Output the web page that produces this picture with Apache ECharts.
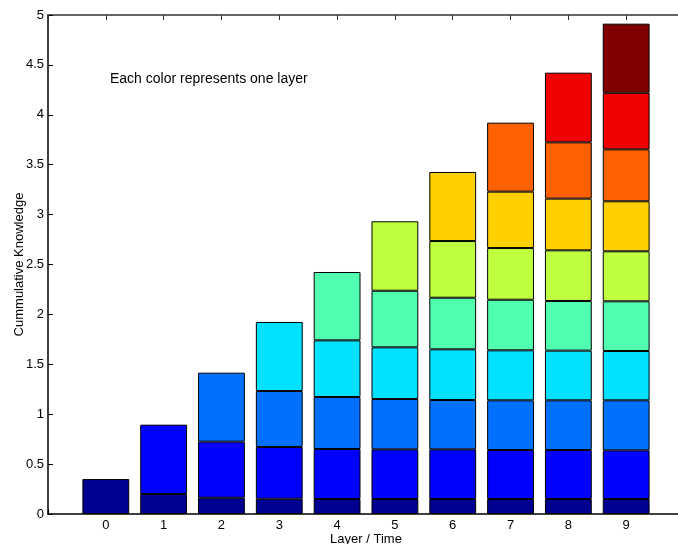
<!DOCTYPE html>
<html>
<head>
<meta charset="utf-8">
<script src="https://cdn.jsdelivr.net/npm/echarts@6/dist/echarts.min.js"></script>
<style>
html,body{margin:0;padding:0;background:#fff;}
#c{width:678px;height:544px;}
</style>
</head>
<body>
<div id="c"></div>
<script>
// x axis categories (Layer / Time); -1 and 10 are the empty axis ends
var xCategories = ['-1', '0', '1', '2', '3', '4', '5', '6', '7', '8', '9', '10'];
// Per-layer increments for times 0..9 (null = layer not present yet)
var layer1  = [0.35, 0.20, 0.163, 0.153, 0.150, 0.150, 0.150, 0.150, 0.150, 0.150];
var layer2  = [null, 0.695, 0.562, 0.518, 0.501, 0.498, 0.498, 0.491, 0.491, 0.488];
var layer3  = [null, null, 0.691, 0.561, 0.521, 0.504, 0.494, 0.498, 0.498, 0.501];
var layer4  = [null, null, null, 0.692, 0.568, 0.518, 0.508, 0.501, 0.498, 0.494];
var layer5  = [null, null, null, null, 0.685, 0.567, 0.517, 0.507, 0.497, 0.498];
var layer6  = [null, null, null, null, null, 0.696, 0.568, 0.518, 0.508, 0.501];
var layer7  = [null, null, null, null, null, null, 0.692, 0.565, 0.518, 0.501];
var layer8  = [null, null, null, null, null, null, null, 0.691, 0.564, 0.521];
var layer9  = [null, null, null, null, null, null, null, null, 0.698, 0.567];
var layer10 = [null, null, null, null, null, null, null, null, null, 0.692];
var layers = [layer1, layer2, layer3, layer4, layer5, layer6, layer7, layer8, layer9, layer10];
var colors = ['#000090', '#0000ff', '#0070ff', '#00e0ff', '#50ffb0', '#c0ff40', '#ffd000', '#ff6000', '#f00000', '#800000'];

var FONT = 'Liberation Sans, Arial, sans-serif';
var chart = echarts.init(document.getElementById('c'), null, {renderer: 'canvas'});

var series = layers.map(function (arr, k) {
  // pad with empty values for the -1 and 10 axis ends
  var d = ['-'].concat(arr.map(function (v) { return v === null ? '-' : v; })).concat(['-']);
  return {
    type: 'bar',
    name: 'Layer ' + k,
    stack: 'total',
    barWidth: '81%',
    data: d,
    itemStyle: {color: colors[k], borderColor: '#000', borderWidth: 1},
    emphasis: {disabled: true},
    animation: false
  };
});

chart.setOption({
  animation: false,
  backgroundColor: '#fff',
  grid: {left: 48, top: 15, right: -6, bottom: 30, containLabel: false, outerBoundsMode: 'none'},
  xAxis: [{
    type: 'category', data: xCategories, boundaryGap: false, position: 'bottom',
    name: 'Layer / Time', nameLocation: 'middle', nameGap: 19, nameMoveOverlap: false,
    nameTextStyle: {fontFamily: FONT, fontSize: 13, color: '#000'},
    axisLine: {show: true, onZero: false, lineStyle: {color: '#000', width: 1.5}},
    axisTick: {show: true, inside: true, length: 5, interval: 0, lineStyle: {color: '#000'}},
    axisLabel: {fontFamily: FONT, fontSize: 13, color: '#000', margin: 5, interval: 0,
      formatter: function (v) { return (v === '-1' || v === '10') ? '' : v; }},
    splitLine: {show: false}
  }, {
    type: 'category', data: xCategories, boundaryGap: false, position: 'top',
    axisLine: {show: true, onZero: false, lineStyle: {color: '#333', width: 1.5}},
    axisTick: {show: true, inside: true, length: 5, interval: 0, lineStyle: {color: '#333'}},
    axisLabel: {show: false},
    splitLine: {show: false}
  }],
  yAxis: [{
    type: 'value', min: 0, max: 5, interval: 0.5, position: 'left',
    name: 'Cummulative Knowledge', nameLocation: 'middle', nameGap: 22, nameRotate: 90, nameMoveOverlap: false,
    nameTextStyle: {fontFamily: FONT, fontSize: 13, color: '#000'},
    axisLine: {show: true, onZero: false, lineStyle: {color: '#000', width: 1.5}},
    axisTick: {show: true, inside: true, length: 5, lineStyle: {color: '#000'}},
    axisLabel: {fontFamily: FONT, fontSize: 13, color: '#000', margin: 4},
    splitLine: {show: false}
  }, {
    type: 'value', min: 0, max: 5, interval: 0.5, position: 'right',
    axisLine: {show: true, onZero: false, lineStyle: {color: '#000'}},
    axisTick: {show: true, inside: true, length: 5, lineStyle: {color: '#888'}},
    axisLabel: {show: false},
    splitLine: {show: false}
  }],
  graphic: [{
    type: 'text', left: 110, top: 72,
    style: {text: 'Each color represents one layer', fontFamily: FONT, fontSize: 14, fill: '#000'}
  }],
  series: series
});
</script>
</body>
</html>
